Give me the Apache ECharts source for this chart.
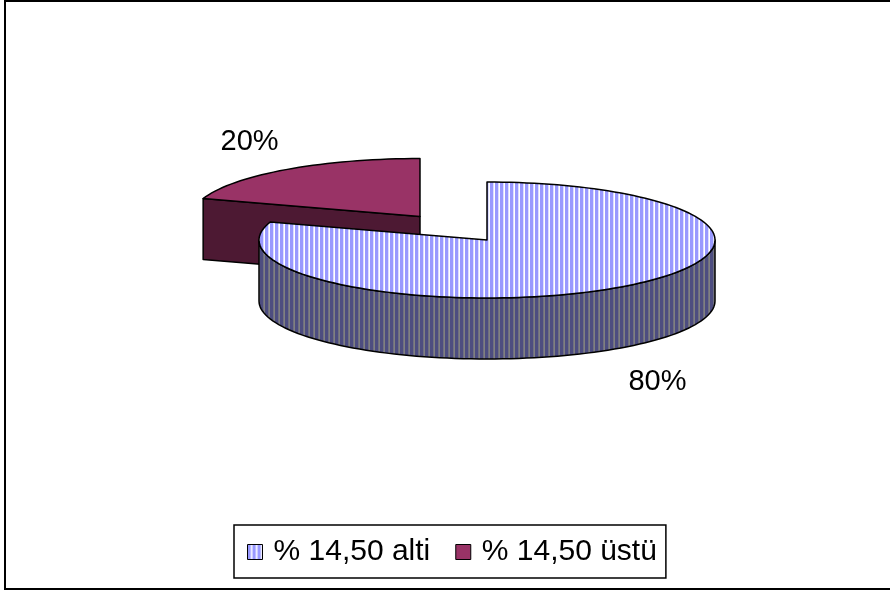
<!DOCTYPE html>
<html>
<head>
<meta charset="utf-8">
<script src="https://cdn.jsdelivr.net/npm/echarts@6/dist/echarts.min.js"></script>
<style>
  html, body { margin: 0; padding: 0; background: #fff; }
  #chart { width: 890px; height: 591px; }
</style>
</head>
<body>
<div id="chart"></div>
<script>
// data
var names = ['% 14,50 alti', '% 14,50 üstü'];
var values = [80, 20];
var labels = ['80%', '20%'];

// pie geometry (3D look, like the old excel chart)
var CX = 487, CY = 240, RX = 228, RY = 58, DEPTH = 61;
var explode = [0, 0.5];

function stripes(c1, c2, c3) {
  var cv = document.createElement('canvas');
  cv.width = 5; cv.height = 5;
  var ctx = cv.getContext('2d');
  ctx.fillStyle = c1; ctx.fillRect(0, 0, 3, 5);
  ctx.fillStyle = c2; ctx.fillRect(3, 0, 1, 5);
  ctx.fillStyle = c3; ctx.fillRect(4, 0, 1, 5);
  return { image: cv, repeat: 'repeat' };
}

var topFill = [stripes('#9999ff', '#ddddff', '#ffffff'), '#993366'];
var sideFill = [stripes('#4d4d80', '#707080', '#808080'), '#4d1933'];

function arc(cx, cy, a, b, dz) {
  var pts = [];
  var n = Math.max(2, Math.ceil(Math.abs(b - a) / 2));
  for (var k = 0; k <= n; k++) {
    var t = (a + (b - a) * k / n) * Math.PI / 180;
    pts.push([cx + RX * Math.cos(t), cy - RY * Math.sin(t) + dz]);
  }
  return pts;
}

function makeRender(i) {
  return function (params, api) {
    var total = 0, before = 0;
    for (var j = 0; j < values.length; j++) {
      total += values[j];
      if (j < i) before += values[j];
    }
    var a0 = 90 - before / total * 360;
    var a1 = a0 - api.value(0) / total * 360;
    var mid = (a0 + a1) / 2 * Math.PI / 180;
    var cx = CX + explode[i] * RX * Math.cos(mid);
    var cy = CY - explode[i] * RY * Math.sin(mid);
    var line = { stroke: '#000', lineWidth: 1.5, lineJoin: 'round' };
    var kids = [];

    // radial walls
    function wall(a) {
      var p = arc(cx, cy, a, a, 0)[0];
      kids.push({
        type: 'polygon',
        shape: { points: [[cx, cy], p, [p[0], p[1] + DEPTH], [cx, cy + DEPTH]] },
        style: Object.assign({ fill: sideFill[i] }, line)
      });
    }
    if (Math.cos(a0 * Math.PI / 180) < -0.01) wall(a0);
    if (Math.cos(a1 * Math.PI / 180) > 0.01) wall(a1);

    // outer front wall
    for (var k = -2; k <= 1; k++) {
      var lo = Math.max(a1, -180 + 360 * k), hi = Math.min(a0, 360 * k);
      if (hi > lo) {
        var up = arc(cx, cy, lo, hi, 0);
        var dn = arc(cx, cy, hi, lo, DEPTH);
        kids.push({
          type: 'polygon',
          shape: { points: up.concat(dn) },
          style: Object.assign({ fill: sideFill[i] }, line)
        });
      }
    }

    // top face
    kids.push({
      type: 'polygon',
      shape: { points: [[cx, cy]].concat(arc(cx, cy, a0, a1, 0)) },
      style: Object.assign({ fill: topFill[i] }, line)
    });

    // label
    var rx = cx + RX * Math.cos(mid), ry = cy - RY * Math.sin(mid);
    if (Math.sin(mid) < 0) ry += DEPTH;
    kids.push({
      type: 'text',
      x: rx + 62 * Math.cos(mid),
      y: ry - 38 * Math.sin(mid) + 3,
      style: {
        text: labels[i], fill: '#000',
        font: '29px "Liberation Sans", Arial, sans-serif',
        align: 'center', verticalAlign: 'middle'
      }
    });
    return { type: 'group', children: kids };
  };
}

var chart = echarts.init(document.getElementById('chart'));
var series = [];
for (var i = 0; i < names.length; i++) {
  series.push({
    name: names[i],
    type: 'custom',
    coordinateSystem: 'none',
    z: i === 0 ? 3 : 2,
    itemStyle: { color: topFill[i] },
    data: [[values[i]]],
    renderItem: makeRender(i)
  });
}

var option = {
  animation: false,
  backgroundColor: '#fff',
  legend: {
    left: 234,
    top: 525,
    padding: [12, 9, 11, 13],
    borderColor: '#000',
    borderWidth: 1.5,
    itemWidth: 15,
    itemHeight: 15,
    itemGap: 25,
    icon: 'rect',
    selectedMode: false,
    textStyle: {
      fontSize: 30,
      color: '#000',
      fontFamily: '"Liberation Sans", Arial, sans-serif',
      padding: [0, 0, 0, 6]
    },
    data: names.map(function (n, i) {
      return { name: n, itemStyle: { color: topFill[i], borderColor: '#000', borderWidth: 1 } };
    })
  },
  graphic: [{
    type: 'rect',
    shape: { x: 5, y: 1, width: 900, height: 588 },
    style: { fill: 'none', stroke: '#000', lineWidth: 2 },
    silent: true
  }],
  series: series
};
chart.setOption(option);
</script>
</body>
</html>
